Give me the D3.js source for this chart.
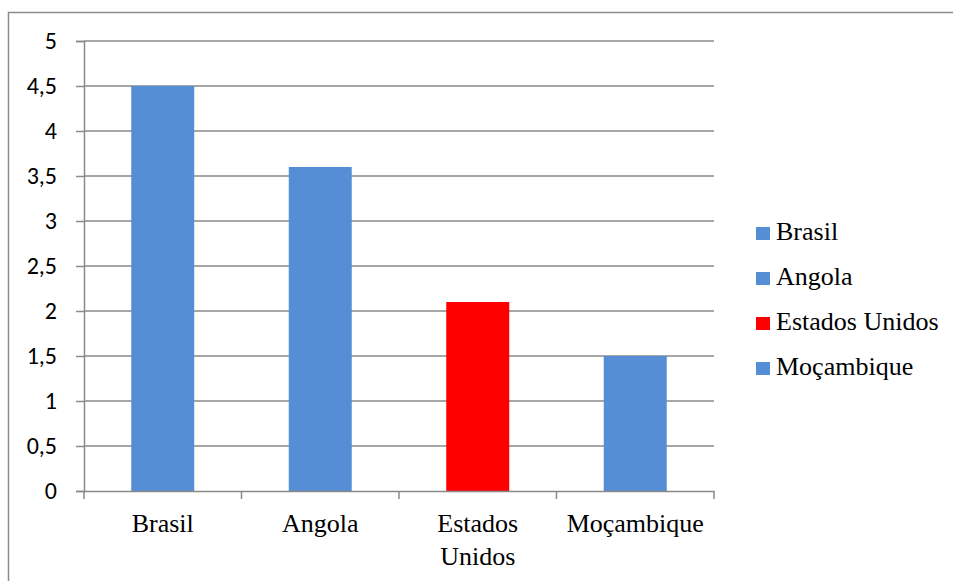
<!DOCTYPE html>
<html>
<head>
<meta charset="utf-8">
<script src="https://cdn.jsdelivr.net/npm/d3@7"></script>
</head>
<body style="margin:0">
<svg id="chart" width="953" height="581" style="display:block"></svg>
<script>
// Categories and values
const categories = ["Brasil", "Angola", "Estados Unidos", "Moçambique"];
const values = [4.5, 3.6, 2.1, 1.5];
const barColors = ["#558ED5", "#558ED5", "#FF0000", "#558ED5"];
const yTicks = [0, 0.5, 1, 1.5, 2, 2.5, 3, 3.5, 4, 4.5, 5];
// Category labels as drawn (line-broken)
const categoryLines = [["Brasil"], ["Angola"], ["Estados", "Unidos"], ["Moçambique"]];

const serif = '"Liberation Serif"';
const sans = '"Carlito"';

const svg = d3.select("#chart");
const gridColor = "#8a8a8a";

// Outer frame
svg.append("rect")
  .attr("x", 8.5).attr("y", 12.5)
  .attr("width", 1000).attr("height", 1000)
  .attr("fill", "none").attr("stroke", "#8c8c8c").attr("stroke-width", 1.5);

const plot = { left: 84, right: 714, top: 41, bottom: 491 };

const x = d3.scaleBand().domain(categories).range([plot.left, plot.right]).paddingInner(0.6).paddingOuter(0.3);
const xOuter = d3.scaleBand().domain(categories).range([plot.left, plot.right]);
const y = d3.scaleLinear().domain([0, 5]).range([plot.bottom, plot.top]);

const locale = d3.formatLocale({ decimal: ",", thousands: ".", grouping: [3], currency: ["", ""] });
const fmt = v => locale.format("")(v);

// Gridlines
svg.append("g").selectAll("line").data(yTicks.filter(d => d > 0)).join("line")
  .attr("x1", plot.left).attr("x2", plot.right)
  .attr("y1", d => y(d)).attr("y2", d => y(d))
  .attr("stroke", gridColor).attr("stroke-width", 1.5);

// Y axis
const yAxis = svg.append("g")
  .attr("transform", `translate(${plot.left},0)`)
  .call(d3.axisLeft(y).tickValues(yTicks).tickFormat(fmt).tickSize(8).tickPadding(19));
yAxis.attr("font-family", null).attr("font-size", null);
yAxis.select(".domain").attr("stroke", gridColor).attr("stroke-width", 1.5);
yAxis.selectAll(".tick line").attr("stroke", gridColor).attr("stroke-width", 1.5);
yAxis.selectAll(".tick text")
  .style("font-family", sans)
  .style("font-size", "24px").attr("fill", "#000");

// Bars
svg.append("g").selectAll("rect").data(categories).join("rect")
  .attr("x", d => x(d))
  .attr("width", x.bandwidth())
  .attr("y", (d, i) => y(values[i]))
  .attr("height", (d, i) => y(0) - y(values[i]))
  .attr("fill", (d, i) => barColors[i]);

// X axis
const xAxis = svg.append("g")
  .attr("transform", `translate(0,${plot.bottom})`)
  .call(d3.axisBottom(xOuter).tickSize(0).tickFormat(""));
xAxis.select(".domain").attr("stroke", gridColor).attr("stroke-width", 1.5);
const boundaries = categories.map(c => xOuter(c)).concat([plot.right]);
svg.append("g").selectAll("line").data(boundaries).join("line")
  .attr("x1", d => d).attr("x2", d => d)
  .attr("y1", plot.bottom).attr("y2", plot.bottom + 8)
  .attr("stroke", gridColor).attr("stroke-width", 1.5);

// Category labels
const labels = svg.append("g").attr("text-anchor", "middle");
categories.forEach((c, i) => {
  const cx = xOuter(c) + xOuter.bandwidth() / 2;
  const t = labels.append("text")
    .attr("x", cx).attr("y", 532)
    .style("font-family", serif).style("font-size", "26px").attr("fill", "#000");
  categoryLines[i].forEach((line, j) => {
    t.append("tspan").attr("x", cx).attr("dy", j === 0 ? 0 : 33).text(line);
  });
});

// Legend
const legend = svg.append("g").attr("transform", "translate(756,240)");
const rows = legend.selectAll("g").data(categories).join("g")
  .attr("transform", (d, i) => `translate(0,${i * 45})`);
rows.append("rect")
  .attr("x", 0).attr("y", -13).attr("width", 14).attr("height", 13)
  .attr("fill", (d, i) => barColors[i]);
rows.append("text")
  .attr("x", 20).attr("y", 0)
  .style("font-family", serif).style("font-size", "26px").attr("fill", "#000")
  .text(d => d);
</script>
</body>
</html>
